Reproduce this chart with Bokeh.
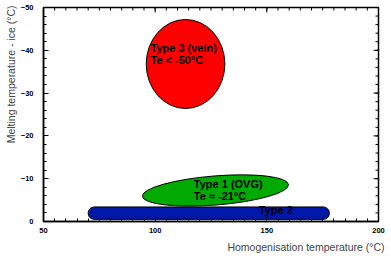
import math
from bokeh.plotting import figure
from bokeh.models import Range1d, Title, ColumnDataSource, FixedTicker
from bokeh.core.properties import value
from bokeh.embed import file_html
from bokeh.resources import INLINE

# ---- data ----
types = ["Type 3 (vein)", "Type 1 (OVG)", "Type 2"]
th_min = [96.0, 94.2, 70.0]        # homogenisation temperature extents (°C)
th_max = [131.2, 159.8, 178.0]
tm_min = [-47.2, -10.9, -3.4]      # melting temperature extents (°C)
tm_max = [-26.4, -3.6, -0.5]
colors = ["#FF0000", "#00AA00", "#0018A8"]

label_texts = ["Type 3 (vein)\nTe < -50°C", "Type 1 (OVG)\nTe \u2248 -21°C", "Type 2"]
label_x = [97.9, 117.3, 146.4]
label_y = [-42.0, -10.1, -4.0]

x_ticks = [50, 100, 150, 200]
y_ticks = [0, -10, -20, -30, -40, -50]

FONT = "Liberation Sans"

p = figure(width=391, height=256, output_backend="svg", toolbar_location=None,
           x_range=Range1d(50, 200), y_range=Range1d(0, -50),
           min_border_left=43, min_border_right=13, min_border_top=7, min_border_bottom=34)
p.xgrid.visible = False
p.ygrid.visible = False
p.outline_line_color = "black"
p.outline_line_width = 1.5
p.background_fill_color = "white"
p.border_fill_color = "white"

x_minor = [50 + 5 * i for i in range(31)]
y_minor = [-2 * i for i in range(26)]
xt = FixedTicker(ticks=x_ticks, minor_ticks=x_minor)
yt = FixedTicker(ticks=y_ticks, minor_ticks=y_minor)

def style_axis(ax):
    ax.axis_line_color = "black"
    ax.axis_line_width = 1.5
    ax.major_tick_in = 5
    ax.major_tick_out = 0
    ax.minor_tick_in = 3
    ax.minor_tick_out = 0
    ax.major_tick_line_color = "black"
    ax.minor_tick_line_color = "black"
    ax.major_label_text_font = FONT
    ax.major_label_text_font_size = "7.5px"
    ax.major_label_text_font_style = "bold"
    ax.major_label_text_color = "black"

xa = p.xaxis[0]
xa.ticker = xt
style_axis(xa)
xa.major_label_standoff = 6
ya = p.yaxis[0]
ya.ticker = yt
style_axis(ya)
ya.major_label_standoff = 10

# mirrored inward ticks on top and right edges
p.ray(x=x_minor, y=[-50] * len(x_minor), length=3, length_units="screen",
      angle=-math.pi / 2, line_color="black", line_width=1)
p.ray(x=x_ticks, y=[-50] * len(x_ticks), length=5, length_units="screen",
      angle=-math.pi / 2, line_color="black", line_width=1)
p.ray(x=[200] * len(y_minor), y=y_minor, length=3, length_units="screen",
      angle=math.pi, line_color="black", line_width=1)
p.ray(x=[200] * len(y_ticks), y=y_ticks, length=5, length_units="screen",
      angle=math.pi, line_color="black", line_width=1)

# ---- regions ----
# Type 2: rounded bar
p.quad(left=[th_min[2]], right=[th_max[2]], bottom=[tm_max[2]], top=[tm_min[2]],
       fill_color=colors[2], line_color="black", line_width=1, border_radius=6)

# Type 1 and Type 3: ellipses
cx = [(a + b) / 2 for a, b in zip(th_min[:2], th_max[:2])]
cy = [(a + b) / 2 for a, b in zip(tm_min[:2], tm_max[:2])]
w = [b - a for a, b in zip(th_min[:2], th_max[:2])]
h = [b - a for a, b in zip(tm_min[:2], tm_max[:2])]
h[1] = 6.8
angles = [0.0, 0.08]
src = ColumnDataSource(dict(x=cx[::-1], y=cy[::-1], w=w[::-1], h=h[::-1],
                            a=angles[::-1], c=colors[:2][::-1]))
p.ellipse(x="x", y="y", width="w", height="h", angle="a", source=src,
          fill_color="c", line_color="black", line_width=1)

p.text(x=label_x, y=label_y, text=label_texts, text_font=value(FONT),
       text_font_size="11px", text_font_style="bold", text_color="black",
       text_baseline="top", text_align="left", text_line_height=1.0)

xt_title = Title(text="Homogenisation temperature (°C)", align="right",
                 vertical_align="bottom",
                 text_font=FONT, text_font_size="10.5px", text_font_style="normal",
                 standoff=7, offset=-6)
p.add_layout(xt_title, "below")
yt_title = Title(text="Melting temperature - ice (°C)", align="right",
                 text_font=FONT, text_font_size="10.5px", text_font_style="normal",
                 standoff=2, offset=-2)
p.add_layout(yt_title, "left")

open("out.html", "w").write(file_html(p, INLINE))
